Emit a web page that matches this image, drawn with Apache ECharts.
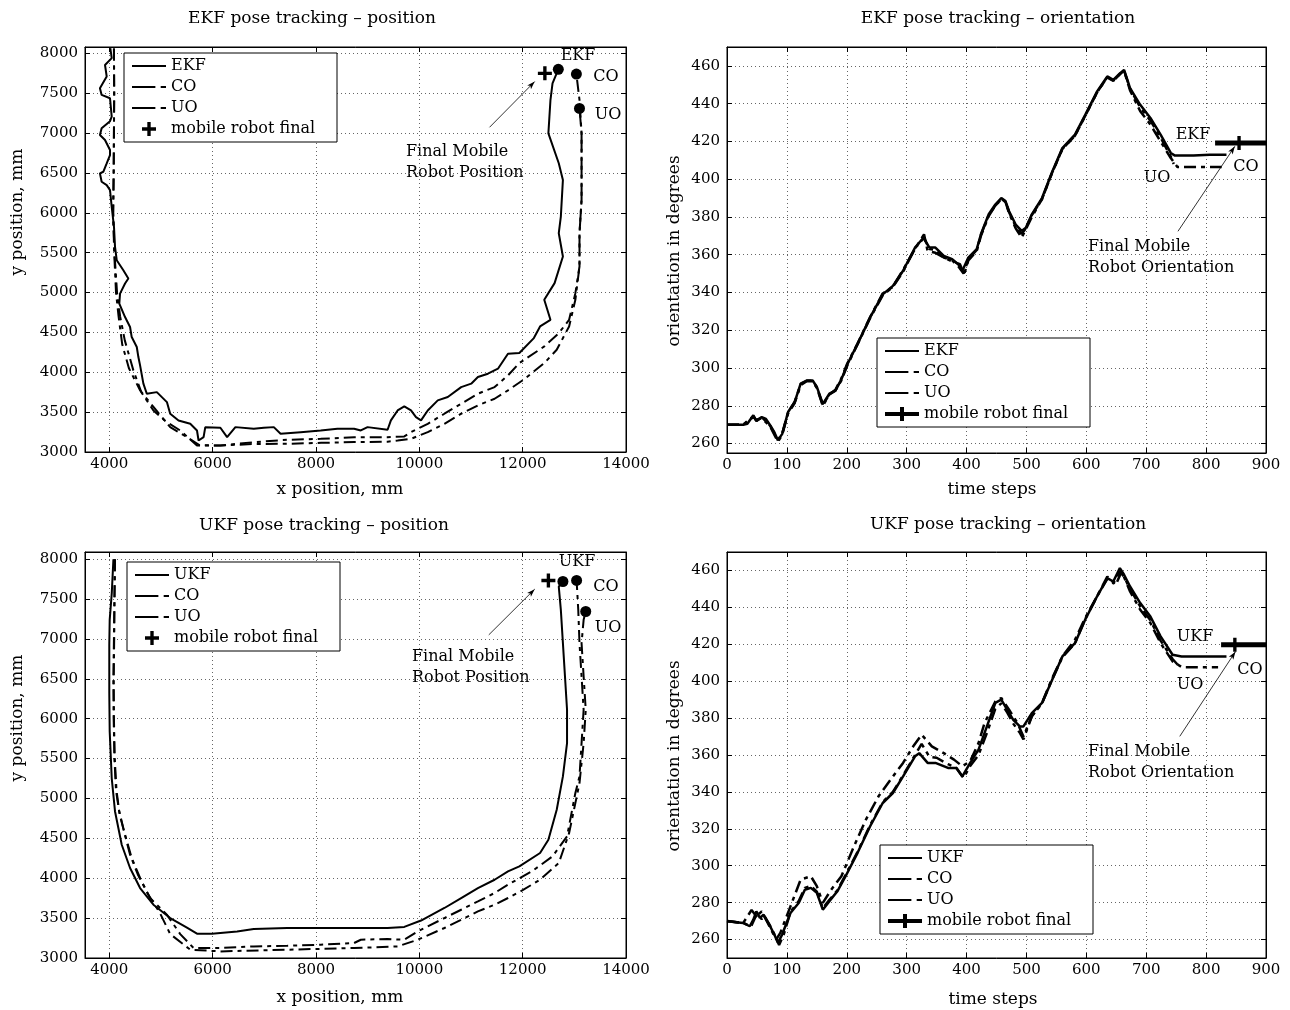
<!DOCTYPE html>
<html>
<head>
<meta charset="utf-8" />
<title>EKF / UKF pose tracking</title>
<script src="https://cdn.jsdelivr.net/npm/echarts@6/dist/echarts.min.js"></script>
<style>
  html, body { margin: 0; padding: 0; background: #fff; }
  #main { width: 1290px; height: 1010px; }
</style>
</head>
<body>
<div id="main"></div>
<script>
// ---------- values ----------
// position plots: [x mm, y mm]
var ekfPos = [[4020,8065],[4047,7940],[3917,7855],[3950,7710],[3819,7563],[3852,7479],[4014,7437],[4047,7206],[4014,7150],[3852,7060],[3819,6976],[3917,6913],[4014,6788],[4014,6725],[3950,6620],[3884,6515],[3819,6495],[3852,6390],[3950,6348],[4014,6285],[4047,6075],[4091,5824],[4111,5573],[4144,5406],[4272,5280],[4369,5176],[4305,5113],[4208,4987],[4194,4862],[4305,4693],[4402,4568],[4434,4442],[4532,4317],[4563,4191],[4596,4087],[4660,3857],[4726,3731],[4920,3751],[5115,3626],[5179,3480],[5340,3396],[5567,3354],[5697,3270],[5728,3144],[5825,3186],[5858,3312],[6150,3304],[6280,3186],[6441,3312],[6796,3291],[6990,3304],[7184,3312],[7315,3228],[7703,3249],[8091,3270],[8415,3291],[8738,3291],[8868,3270],[8998,3312],[9386,3279],[9450,3396],[9580,3521],[9709,3572],[9839,3521],[9936,3437],[10033,3396],[10163,3521],[10357,3647],[10551,3689],[10810,3814],[11004,3857],[11134,3940],[11328,3982],[11522,4045],[11716,4233],[11936,4241],[12217,4429],[12337,4575],[12538,4658],[12418,4909],[12618,5118],[12779,5452],[12699,5744],[12739,5953],[12779,6413],[12699,6622],[12498,6997],[12538,7415],[12578,7624],[12690,7800]];
var ekfPosCO = [[4090,8060],[4095,7500],[4090,7000],[4085,6500],[4075,6000],[4100,5500],[4150,5000],[4210,4700],[4300,4400],[4466,4024],[4620,3750],[4854,3521],[5100,3380],[5373,3270],[5697,3082],[6150,3082],[6796,3123],[7444,3153],[8091,3165],[8738,3186],[9386,3186],[9709,3195],[9839,3249],[10163,3354],[10486,3480],[10810,3606],[11134,3731],[11457,3814],[11716,3961],[11936,4115],[12418,4324],[12699,4491],[12899,4658],[13020,4992],[13100,5327],[13100,5744],[13140,6162],[13140,6997],[13100,7415],[13040,7740]];
var ekfPosUO = [[4090,8060],[4095,7500],[4090,7000],[4085,6500],[4075,6000],[4095,5500],[4130,5000],[4180,4700],[4250,4350],[4380,4050],[4596,3773],[4900,3530],[5179,3312],[5502,3186],[5750,3085],[6150,3082],[6800,3100],[7444,3103],[8100,3115],[8738,3124],[9386,3130],[9580,3144],[9839,3166],[10163,3249],[10486,3354],[10810,3480],[11134,3585],[11457,3668],[11716,3773],[12016,3906],[12418,4115],[12659,4282],[12899,4575],[13020,4909],[13100,5327],[13100,5744],[13140,6162],[13140,6997],[13100,7310]];
var ekfPosEnds = [[12690,7800],[13040,7740],[13100,7310]];
var ekfFinalPos = [[12430,7750]];

var ukfPos = [[4080,8000],[4048,7574],[4008,7240],[4000,6926],[4000,6320],[4008,5840],[4047,5256],[4111,4837],[4241,4420],[4402,4128],[4596,3877],[4854,3668],[5179,3501],[5503,3380],[5697,3305],[5988,3305],[6474,3333],[6796,3363],[7444,3376],[8738,3376],[9386,3376],[9709,3390],[10033,3470],[10486,3627],[10810,3752],[11134,3877],[11457,3981],[11716,4085],[11936,4149],[12337,4316],[12498,4483],[12659,4859],[12779,5277],[12859,5694],[12859,6112],[12819,6530],[12779,6947],[12739,7365],[12699,7657],[12779,7720]];
var ukfPosCO = [[4110,8000],[4100,7500],[4090,7000],[4080,6500],[4085,6000],[4100,5500],[4130,5100],[4200,4800],[4305,4545],[4434,4253],[4596,4003],[4790,3752],[5114,3543],[5373,3300],[5631,3125],[6150,3125],[6796,3145],[7444,3154],[8091,3167],[8738,3188],[8868,3229],[9386,3238],[9709,3229],[9968,3333],[10486,3501],[10810,3605],[11134,3709],[11457,3815],[11716,3919],[12177,4086],[12578,4274],[12859,4525],[13020,5068],[13100,5277],[13140,5694],[13180,6112],[13140,6530],[13100,6947],[13076,7365],[13044,7733]];
var ukfPosUO = [[4110,8000],[4100,7500],[4095,7000],[4085,6500],[4090,6000],[4105,5500],[4140,5100],[4190,4850],[4280,4600],[4400,4300],[4550,4050],[4750,3800],[4984,3560],[5179,3300],[5567,3104],[6150,3083],[7444,3104],[8738,3125],[9580,3145],[9968,3229],[10486,3376],[10810,3480],[11134,3584],[11457,3668],[11716,3752],[12000,3850],[12337,3982],[12699,4190],[12899,4566],[13020,4942],[13100,5193],[13180,5694],[13221,6112],[13180,6530],[13140,6947],[13180,7240],[13221,7344]];
var ukfPosEnds = [[12779,7720],[13044,7733],[13221,7344]];
var ukfFinalPos = [[12498,7733]];

// orientation plots: [time step, degrees]
var ekfOri = [[0,270],[27,270],[34,270.5],[44,275],[49,272],[58,274],[65,273],[72,269.7],[79,266],[85,261.8],[92,265],[102,276.7],[113,282],[123,291.7],[133,293.4],[143,293.4],[150,290],[160,281],[171,286.4],[181,288],[191,294],[201,302],[218,312.8],[239,326.8],[260,339],[277,343.5],[294,351.5],[314,363.8],[328,369],[338,363.8],[348,363.8],[362,359.4],[376,357.6],[386,355],[393,351.5],[403,358.5],[417,363],[424,370.8],[437,381.4],[448,386.6],[458,390],[465,388.4],[471,383],[482,376],[492,372.6],[499,374.3],[509,381.4],[526,390],[543,404],[560,416.5],[581,423.6],[598,434],[618,446.5],[635,454.4],[645,452.6],[656,456],[663,457.9],[673,448.2],[690,439.4],[707,432.4],[724,423.6],[741,413.9],[748,412.5],[779,412.5],[806,413],[834,413]];
var ekfOriCO = [[0,270],[27,270],[44,274],[49,272.5],[58,273.5],[72,269],[85,261],[92,264.5],[102,276],[113,281.5],[123,291],[133,293],[143,293],[150,289.5],[160,280.5],[171,286],[181,288.5],[191,294.5],[201,302.5],[218,313],[239,327],[260,339.5],[277,343],[294,352],[314,363],[329,370.8],[335,362],[348,361],[362,358.5],[376,356.5],[389,355],[396,349.7],[403,357],[417,362],[424,370],[437,380.5],[448,386],[458,389.5],[465,388],[471,382],[482,374],[492,369],[499,373.5],[509,380],[526,389.5],[543,403.5],[560,416],[581,423],[598,433.5],[618,446],[635,454],[645,452],[656,455.5],[663,457.5],[673,447],[690,436],[707,428.9],[724,420],[741,411.2],[752,406.5],[826,406.5]];
var ekfOriUO = [[0,270],[27,270],[44,274.5],[49,272],[58,274],[72,269.5],[85,262],[92,265],[102,276.5],[113,282],[123,291.5],[133,293.2],[143,293.2],[150,289.8],[160,280],[171,286],[181,288],[191,293.5],[201,301.5],[218,312.5],[239,326.5],[260,338.5],[277,343],[294,351],[314,363.5],[329,369],[338,363],[348,362.5],[362,358.5],[376,357],[386,354],[395,350],[403,357.5],[417,362.5],[424,370.5],[437,381],[448,386],[458,389.5],[465,388],[471,382.5],[482,375],[492,371],[499,374],[509,381],[526,389.5],[543,403.5],[560,416],[581,423],[598,433.5],[618,446],[635,454],[645,452],[656,455.8],[663,457.5],[673,448],[690,438],[707,431],[724,422],[741,412],[746,408]];
var ekfOriFinal = [[815,419.2],[855,419.2],[900,419.2]];

var ukfOri = [[0,269.9],[27,269],[38,267.2],[44,270.8],[49,275.3],[55,271.7],[61,273.5],[72,267.2],[79,262.7],[85,258.2],[92,262.7],[106,274.4],[120,279.9],[130,287],[140,288],[150,285.3],[160,276.2],[171,280.8],[184,286],[198,294.3],[218,307],[239,321.4],[260,334],[277,339.4],[294,348.4],[314,359.3],[321,361],[335,355.7],[348,355.7],[369,353],[383,353],[393,348.4],[406,355.7],[420,362.9],[434,375.5],[448,388.2],[458,390],[468,384.5],[478,379],[489,375.5],[495,375.5],[509,382.7],[526,388.2],[543,400.8],[560,413.4],[581,420.6],[598,433.3],[618,446],[635,455.8],[645,454],[656,461.3],[663,457.7],[673,451.3],[690,442.3],[707,435],[724,424.3],[744,414.3],[759,413.4],[786,413.4],[834,413.4]];
var ukfOriCO = [[0,270],[27,269],[41,276],[49,272.6],[58,275.3],[68,269],[82,260],[89,263.6],[106,278],[123,292.5],[140,294.3],[150,288.9],[160,279.9],[174,287],[191,294.3],[212,310.5],[232,325],[253,337.6],[273,346.6],[294,355.7],[311,364.7],[325,371],[342,364.7],[362,361],[379,357.5],[393,353.9],[406,356.6],[420,366.5],[430,377.3],[448,389],[458,390.9],[471,384.5],[485,377.3],[495,370],[509,381],[526,388.2],[543,401.7],[560,413.4],[581,422.4],[598,434.2],[618,446],[635,456.7],[649,452.2],[659,459.5],[673,448.6],[690,438.7],[707,431.5],[724,420.6],[744,410.7],[760,407.5],[820,407.5]];
var ukfOriUO = [[0,270],[27,269],[40,267],[47,272],[52,274],[58,271],[62,273],[72,267.5],[82,261],[87,257],[95,263],[106,275],[120,281],[130,288],[140,289],[150,286],[160,277],[171,281.5],[184,286.5],[198,295],[218,307.5],[239,322],[260,334.5],[277,340],[294,349],[314,360],[325,366],[338,359],[350,358.5],[369,355],[383,353],[395,347.5],[406,354],[420,360],[434,372],[448,385],[458,388],[468,383],[478,377],[489,372],[495,368.5],[509,381],[526,388],[543,401],[560,413],[581,420.5],[598,433.5],[618,446],[635,455.5],[645,453],[656,459.5],[663,456.5],[673,450],[690,440.5],[707,433],[724,422],[744,412],[755,408]];
var ukfOriFinal = [[825,419.7],[848,419.7],[900,419.7]];

// annotation arrows: [tail, head]
var posArrowEKF = [[11359,7073],[12233,7646]];
var posArrowUKF = [[11344,7051],[12233,7624]];
var oriArrowEKF = [[753,372.4],[848,417.4]];
var oriArrowUKF = [[756,370.1],[849,416]];

// axis ranges: [min, max, splitNumber]
var posXRange = [3530, 14000, 5];
var oriXRange = [0, 900, 9];
var ekfPosYRange = [3000, 8080, 10];
var ukfPosYRange = [3000, 8090, 10];
var ekfOriYRange = [255, 470, 10];
var ukfOriYRange = [250, 470, 11];

// ---------- chart ----------
var FONT = 'DejaVu Serif';
var DASHDOT = [12, 5, 4, 5];
var PLUS = 'path://M0,3.8H10V6.2H0Z M3.8,0H6.2V10H3.8Z';
var ICON_SOLID = 'path://M0,6H34V8H0Z';
var ICON_DASHDOT = 'path://M0,6H22V8H0Z M27,6H32V8H27Z';
var ICON_FINAL = 'path://M0,5H34V9H0Z M15,0H19V14H15Z';

var grids = [
  {left: 85, top: 47, width: 541, height: 405},
  {left: 727, top: 47, width: 539, height: 406},
  {left: 85, top: 552, width: 541, height: 406},
  {left: 727, top: 552, width: 539, height: 406}
];

function axis(gi, r, pos, main, step) {
  return {
    type: 'value', gridIndex: gi, min: r[0], max: r[1], splitNumber: r[2], position: pos,
    axisLine: {show: true, onZero: false, lineStyle: {color: '#000', width: 1}},
    axisTick: {show: true, inside: true, length: 5, lineStyle: {color: '#000', width: 1}},
    axisLabel: {
      show: main, margin: (pos === 'left' ? 7 : 5), fontFamily: FONT, fontSize: 15, color: '#000',
      showMinLabel: true, showMaxLabel: true,
      formatter: function (v) { return (Math.abs(v % step) < 1e-6) ? String(v) : ''; }
    },
    splitLine: {show: main, lineStyle: {color: '#666', width: 1, type: [1, 3]}}
  };
}

var xAxes = [
  axis(0, posXRange, 'bottom', true, 2000),
  axis(1, oriXRange, 'bottom', true, 100),
  axis(2, posXRange, 'bottom', true, 2000),
  axis(3, oriXRange, 'bottom', true, 100),
  axis(0, posXRange, 'top', false, 2000),
  axis(1, oriXRange, 'top', false, 100),
  axis(2, posXRange, 'top', false, 2000),
  axis(3, oriXRange, 'top', false, 100)
];
var yAxes = [
  axis(0, ekfPosYRange, 'left', true, 500),
  axis(1, ekfOriYRange, 'left', true, 20),
  axis(2, ukfPosYRange, 'left', true, 500),
  axis(3, ukfOriYRange, 'left', true, 20),
  axis(0, ekfPosYRange, 'right', false, 500),
  axis(1, ekfOriYRange, 'right', false, 20),
  axis(2, ukfPosYRange, 'right', false, 500),
  axis(3, ukfOriYRange, 'right', false, 20)
];

function pathLine(name, data, gi, dashed, width) {
  return {
    type: 'line', name: name, data: data, xAxisIndex: gi, yAxisIndex: gi,
    symbol: 'none', showSymbol: false, silent: true, z: dashed ? 2 : 3,
    itemStyle: {color: '#000', borderWidth: 0, opacity: 1},
    lineStyle: {color: '#000', width: width || 2, type: dashed ? DASHDOT : 'solid', opacity: 1}
  };
}

function withArrow(s, arrow) {
  s.markLine = {
    silent: true, symbol: ['none', 'arrow'], symbolSize: [4, 8],
    label: {show: false},
    lineStyle: {color: '#000', width: 0.8, type: 'solid'},
    data: [[{coord: arrow[0]}, {coord: arrow[1]}]]
  };
  return s;
}

function plusScatter(name, data, gi) {
  return {
    type: 'scatter', name: name, data: data, xAxisIndex: gi, yAxisIndex: gi,
    symbol: PLUS, symbolSize: 14, silent: true, z: 4,
    itemStyle: {color: '#000', borderWidth: 0, opacity: 1}
  };
}

function endDots(data, gi) {
  return {
    type: 'scatter', name: 'ends', data: data, xAxisIndex: gi, yAxisIndex: gi,
    symbol: 'circle', symbolSize: 11, silent: true, z: 4,
    itemStyle: {color: '#000', borderWidth: 0, opacity: 1}
  };
}

function finalLine(name, data, gi, markIdx) {
  return {
    type: 'line', name: name, xAxisIndex: gi, yAxisIndex: gi,
    data: data.map(function (p, i) { return i === markIdx ? {value: p} : {value: p, symbol: 'none'}; }),
    symbol: PLUS, symbolSize: 14, showSymbol: true, silent: true, z: 4,
    itemStyle: {color: '#000', borderWidth: 0, opacity: 1},
    lineStyle: {color: '#000', width: 5}
  };
}

function legendAt(left, top, first, finalName, finalIcon) {
  return {
    left: left, top: top, orient: 'vertical', selectedMode: false,
    backgroundColor: '#fff', borderColor: '#000', borderWidth: 1, borderRadius: 0,
    padding: [4, 8, 4, 8], itemWidth: 34, itemHeight: 14, itemGap: 3,
    itemStyle: {opacity: 1},
    textStyle: {fontFamily: FONT, fontSize: 16, color: '#000', width: 158, lineHeight: 18},
    data: [
      {name: first, icon: ICON_SOLID},
      {name: 'CO', icon: ICON_DASHDOT},
      {name: 'UO', icon: ICON_DASHDOT},
      {name: finalName, icon: finalIcon}
    ]
  };
}

function T(x, y, s, size, align) {
  return {
    type: 'text', x: x, y: y, silent: true,
    style: {
      text: s, font: size + 'px "' + FONT + '"', fill: '#000',
      align: align || 'center', verticalAlign: 'middle',
      textAlign: align || 'center', textVerticalAlign: 'middle'
    }
  };
}
function TV(x, y, s, size) {
  var t = T(x, y, s, size);
  t.rotation = Math.PI / 2;
  return t;
}

var option = {
  backgroundColor: '#fff',
  animation: false,
  color: ['#000'],
  grid: grids.map(function (g) {
    return {left: g.left, top: g.top, width: g.width, height: g.height, show: true,
            borderColor: '#000', borderWidth: 1, backgroundColor: '#fff', containLabel: false};
  }),
  xAxis: xAxes,
  yAxis: yAxes,
  legend: [
    legendAt(124, 53, 'EKF', 'mobile robot final', PLUS),
    legendAt(877, 338, 'EKF', 'mobile robot final ', ICON_FINAL),
    legendAt(127, 562, 'UKF', 'mobile robot final', PLUS),
    legendAt(880, 845, 'UKF', 'mobile robot final ', ICON_FINAL)
  ],
  series: [
    pathLine('CO', ekfPosCO, 0, true),
    pathLine('UO', ekfPosUO, 0, true),
    withArrow(pathLine('EKF', ekfPos, 0, false), posArrowEKF),
    plusScatter('mobile robot final', ekfFinalPos, 0),
    endDots(ekfPosEnds, 0),

    pathLine('CO', ekfOriCO, 1, true, 2.5),
    pathLine('UO', ekfOriUO, 1, true, 2.5),
    withArrow(pathLine('EKF', ekfOri, 1, false, 2.5), oriArrowEKF),
    finalLine('mobile robot final ', ekfOriFinal, 1, 1),

    pathLine('CO', ukfPosCO, 2, true),
    pathLine('UO', ukfPosUO, 2, true),
    withArrow(pathLine('UKF', ukfPos, 2, false), posArrowUKF),
    plusScatter('mobile robot final', ukfFinalPos, 2),
    endDots(ukfPosEnds, 2),

    pathLine('CO', ukfOriCO, 3, true, 2.5),
    pathLine('UO', ukfOriUO, 3, true, 2.5),
    withArrow(pathLine('UKF', ukfOri, 3, false, 2.5), oriArrowUKF),
    finalLine('mobile robot final ', ukfOriFinal, 3, 1)
  ],
  graphic: [
    T(312, 19, 'EKF pose tracking – position', 17),
    T(998, 19, 'EKF pose tracking – orientation', 17),
    T(324, 526, 'UKF pose tracking – position', 17),
    T(1008, 525, 'UKF pose tracking – orientation', 17),

    T(340, 490, 'x position, mm', 17),
    T(992, 490, 'time steps', 17),
    T(340, 998, 'x position, mm', 17),
    T(993, 1000, 'time steps', 17),
    TV(18, 212, 'y position, mm', 17),
    TV(675, 251, 'orientation in degrees', 17),
    TV(18, 718, 'y position, mm', 17),
    TV(675, 756, 'orientation in degrees', 17),

    T(578, 56, 'EKF', 16), T(606, 77, 'CO', 16), T(608, 115, 'UO', 16),
    T(406, 152, 'Final Mobile', 16, 'left'), T(406, 173, 'Robot Position', 16, 'left'),
    T(1193, 135, 'EKF', 16), T(1246, 167, 'CO', 16), T(1157, 178, 'UO', 16),
    T(1088, 247, 'Final Mobile', 16, 'left'), T(1088, 268, 'Robot Orientation', 16, 'left'),
    T(577, 562, 'UKF', 16), T(606, 587, 'CO', 16), T(608, 628, 'UO', 16),
    T(412, 657, 'Final Mobile', 16, 'left'), T(412, 678, 'Robot Position', 16, 'left'),
    T(1195, 637, 'UKF', 16), T(1250, 670, 'CO', 16), T(1190, 685, 'UO', 16),
    T(1088, 752, 'Final Mobile', 16, 'left'), T(1088, 773, 'Robot Orientation', 16, 'left')
  ]
};

var chart = echarts.init(document.getElementById('main'), null, {renderer: 'canvas'});
chart.setOption(option);
</script>
</body>
</html>
